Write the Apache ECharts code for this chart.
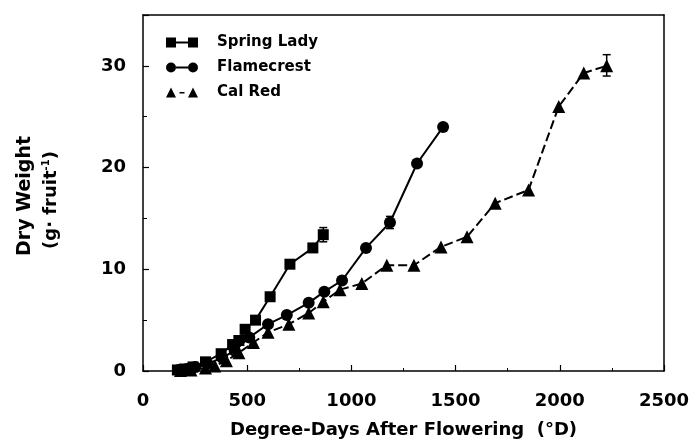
<!DOCTYPE html>
<html><head><meta charset="utf-8">
<script src="https://cdn.jsdelivr.net/npm/echarts@6/dist/echarts.min.js"></script>
<style>html,body{margin:0;padding:0;background:#fff}#c{width:695px;height:445px}</style>
</head><body><div id="c"></div>
<script>
// ---- data ----
const springLadyX = [165, 200, 240, 300, 375, 430, 460, 490, 540, 610, 705, 815, 865];
const springLadyY = [0.1, 0.2, 0.4, 0.9, 1.7, 2.6, 3.0, 4.1, 5.0, 7.3, 10.5, 12.1, 13.4];
const flamecrestX = [170, 210, 250, 310, 380, 440, 510, 600, 690, 795, 870, 955, 1070, 1185, 1315, 1440];
const flamecrestY = [0.1, 0.2, 0.4, 0.7, 1.3, 2.0, 3.3, 4.6, 5.5, 6.7, 7.8, 8.9, 12.1, 14.6, 20.4, 24.0];
const calRedX = [180, 230, 300, 345, 400, 460, 530, 600, 700, 795, 865, 945, 1050, 1170, 1300, 1430, 1555, 1690, 1850, 1995, 2115, 2225];
const calRedY = [0.05, 0.1, 0.3, 0.5, 1.0, 1.8, 2.8, 3.8, 4.6, 5.7, 6.8, 8.0, 8.6, 10.4, 10.4, 12.2, 13.2, 16.5, 17.8, 26.0, 29.3, 30.0];
// error bars: x, low, high
const errX = [865, 1185, 2225];
const errLow = [12.7, 14.0, 29.0];
const errHigh = [14.1, 15.2, 31.1];
const xTicks = [0, 500, 1000, 1500, 2000, 2500];
const yTicks = [0, 10, 20, 30];
const seriesNames = ['Spring Lady', 'Flamecrest', 'Cal Red'];
const xTitle = 'Degree-Days After Flowering  (°D)';
const yTitle1 = 'Dry Weight';

const zip = (xs, ys) => xs.map((x, i) => [x, ys[i]]);
const F = 'DejaVu Sans, Arial, sans-serif';

const chart = echarts.init(document.getElementById('c'));
chart.setOption({
  animation: false,
  backgroundColor: '#fff',
  grid: { left: 143, right: 31, top: 15, bottom: 74, show: false },
  legend: {
    left: 161, top: 30, orient: 'vertical', itemWidth: 32, itemHeight: 10, itemGap: 10,
    textStyle: { fontFamily: F, fontSize: 15, fontWeight: 'bold', color: '#000', padding: [0,0,0,14] },
    data: [
      { name: seriesNames[0], icon: 'path://M0,0h10v10h-10z M10,4h12v2h-12z M22,0h10v10h-10z' },
      { name: seriesNames[1], icon: 'path://M0,5a5,5 0 1,0 10,0a5,5 0 1,0 -10,0z M10,4h12v2h-12z M22,5a5,5 0 1,0 10,0a5,5 0 1,0 -10,0z' },
      { name: seriesNames[2], icon: 'path://M5,0L10,10L0,10z M13.5,4.5h5v1.6h-5z M27,0L32,10L22,10z' }
    ]
  },
  graphic: [
    { type: 'text', x: 25, y: 196, rotation: Math.PI / 2,
      style: { text: yTitle1, font: 'bold 19px ' + F, fill: '#000', align: 'center', verticalAlign: 'middle' } },
    { type: 'text', x: 51, y: 200, rotation: Math.PI / 2,
      style: { text: '{b|(g· fruit}{s|-1}{b|)}', align: 'center', verticalAlign: 'middle',
        rich: {
          b: { fontFamily: F, fontSize: 18, fontWeight: 'bold', fill: '#000', lineHeight: 20 },
          s: { fontFamily: F, fontSize: 10, fontWeight: 'bold', fill: '#000', verticalAlign: 'top', lineHeight: 20 }
        } } }
  ],
  xAxis: [{
    type: 'value', min: xTicks[0], max: xTicks[xTicks.length - 1], interval: xTicks[1] - xTicks[0],
    name: xTitle, nameLocation: 'middle', nameGap: 50,
    nameTextStyle: { fontFamily: F, fontSize: 18, fontWeight: 'bold', color: '#000' },
    axisLine: { lineStyle: { color: '#000', width: 1.5 } },
    axisTick: { inside: true, length: 6, lineStyle: { color: '#000', width: 1.2 } },
    minorTick: { show: true, splitNumber: 2, length: 3, lineStyle: { color: '#000' } },
    axisLabel: { margin: 21, fontFamily: F, fontSize: 18, fontWeight: 'bold', color: '#000', formatter: v => String(v) },
    splitLine: { show: false }
  }, {
    type: 'value', position: 'top', min: 0, max: 2500,
    axisLine: { show: true, onZero: false, lineStyle: { color: '#000', width: 1.5 } },
    axisTick: { show: false }, axisLabel: { show: false }, splitLine: { show: false }
  }],
  yAxis: [{
    type: 'value', min: yTicks[0], max: 35, interval: yTicks[1] - yTicks[0],
    axisLine: { show: true, lineStyle: { color: '#000', width: 1.5 } },
    axisTick: { inside: true, length: 6, lineStyle: { color: '#000', width: 1.2 } },
    minorTick: { show: true, splitNumber: 2, length: 4, lineStyle: { color: '#000' } },
    axisLabel: { margin: 17, fontFamily: F, fontSize: 18, fontWeight: 'bold', color: '#000', showMaxLabel: false },
    splitLine: { show: false }
  }, {
    type: 'value', position: 'right', min: 0, max: 35,
    axisLine: { show: true, onZero: false, lineStyle: { color: '#000', width: 1.5 } },
    axisTick: { show: false }, axisLabel: { show: false }, splitLine: { show: false }
  }],
  series: [
    {
      name: seriesNames[0], type: 'line', data: zip(springLadyX, springLadyY),
      symbol: 'rect', symbolSize: 11, itemStyle: { color: '#000' },
      lineStyle: { color: '#000', width: 2 }, z: 3
    },
    {
      name: seriesNames[1], type: 'line', data: zip(flamecrestX, flamecrestY),
      symbol: 'circle', symbolSize: 12, itemStyle: { color: '#000' },
      lineStyle: { color: '#000', width: 2 }, z: 3
    },
    {
      name: seriesNames[2], type: 'line', data: zip(calRedX, calRedY),
      symbol: 'triangle', symbolSize: 13, itemStyle: { color: '#000' },
      lineStyle: { color: '#000', width: 2, type: [9, 4] }, z: 3
    },
    {
      type: 'custom', z: 4,
      data: errX.map((x, i) => [x, errLow[i], errHigh[i]]),
      renderItem: function (params, api) {
        const lo = api.coord([api.value(0), api.value(1)]);
        const hi = api.coord([api.value(0), api.value(2)]);
        const w = 4;
        return { type: 'group', children: [
          { type: 'line', shape: { x1: hi[0], y1: hi[1], x2: lo[0], y2: lo[1] }, style: { stroke: '#000', lineWidth: 1.5 } },
          { type: 'line', shape: { x1: hi[0] - w, y1: hi[1], x2: hi[0] + w, y2: hi[1] }, style: { stroke: '#000', lineWidth: 1.5 } },
          { type: 'line', shape: { x1: lo[0] - w, y1: lo[1], x2: lo[0] + w, y2: lo[1] }, style: { stroke: '#000', lineWidth: 1.5 } }
        ]};
      }
    }
  ]
});
</script></body></html>
